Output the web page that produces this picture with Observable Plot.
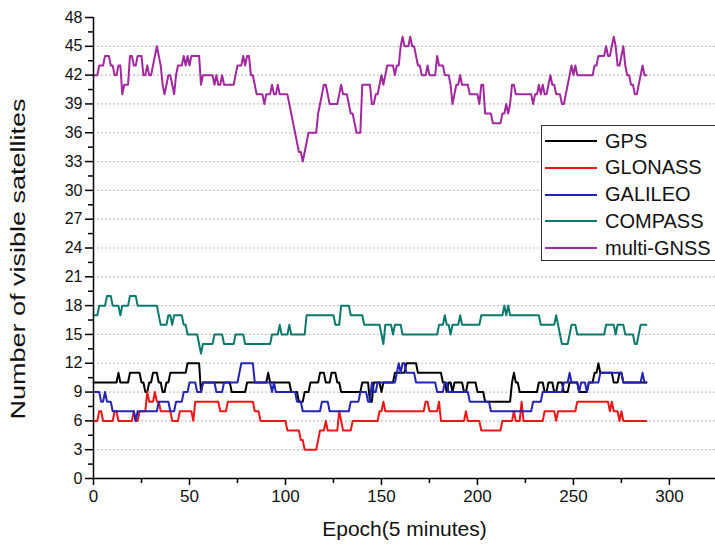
<!DOCTYPE html>
<html>
<head>
<meta charset="utf-8">
<script src="https://cdn.jsdelivr.net/npm/d3@7"></script>
<script src="https://cdn.jsdelivr.net/npm/@observablehq/plot@0.6"></script>
<style>
  html, body { margin: 0; padding: 0; background: #fff; overflow: hidden; }
  #wrap { position: relative; width: 715px; height: 547px; font-family: "Liberation Sans", Arial, sans-serif; }
  #legend { position: absolute; left: 541px; top: 125px; width: 190px; height: 136px; border: 1.5px solid #333; background: #fff; box-sizing: border-box; }
  .row { position: absolute; left: 0; height: 26px; display: flex; align-items: center; }
  .row span { color: #111; margin-left: 5px; font-size: 20px; }
</style>
</head>
<body>
<div id="wrap"><div id="chart"></div><div id="legend"></div></div>
<script>
// ---- Data (change points: epoch where value starts, value held until next change) ----
const seriesNames = ["GPS", "GLONASS", "GALILEO", "COMPASS", "multi-GNSS"];
const seriesColors = ["#000000", "#f01515", "#2424b4", "#0b7a6c", "#a2289f"];
const lastEpoch = 288;

const gpsE = [0,13,14,19,25,27,29,31,34,36,38,40,49,56,57,72,80,91,92,103,107,110,113,118,121,124,127,129,140,144,146,150,151,157,163,169,182,184,185,187,188,193,195,200,204,218,219,220,222,232,235,237,240,242,245,248,253,258,261,263,264,271,274,276];
const gpsV = [10,11,10,11,10,9,10,11,10,9,10,11,12,9,10,9,10,11,10,9,8,9,10,11,10,11,10,9,10,8,10,9,10,11,12,11,10,9,10,9,10,9,10,9,8,10,11,10,9,10,9,10,9,10,9,10,9,10,11,12,11,10,11,10];

const glonassE = [0,3,5,11,13,21,22,24,28,29,32,33,35,41,45,52,53,66,70,84,87,101,108,110,117,118,121,122,128,129,130,135,149,151,152,173,175,180,181,194,195,202,213,219,220,223,224,235,241,242,252,269,270,271,274,275,276];
const glonassV = [6,7,6,7,6,7,6,7,9,8,9,8,7,6,7,6,8,7,8,7,6,5,4,3,4,5,6,5,7,6,5,6,7,8,7,8,7,8,6,7,6,5,6,7,6,8,6,7,6,7,8,7,8,7,6,7,6];

const galileoE = [0,4,6,7,10,22,23,34,40,43,47,50,54,57,64,68,76,77,84,93,94,95,106,109,119,123,134,139,143,145,146,148,158,159,160,161,163,168,179,183,185,196,207,229,234,245,248,249,253,254,257,258,264,276,286,287];
const galileoV = [9,8,9,8,7,6,7,8,7,8,9,10,9,10,9,10,11,12,10,9,10,9,8,7,8,7,8,9,8,10,9,10,11,12,11,12,11,10,9,10,9,8,7,8,9,10,11,10,9,10,9,10,11,10,11,10];

const compassE = [0,3,7,10,14,15,19,23,34,35,39,41,42,47,49,55,56,57,63,68,74,79,93,97,98,102,103,111,126,129,134,141,150,151,152,156,157,161,180,183,184,186,187,191,192,202,214,215,216,217,233,241,242,243,244,248,249,252,267,272,273,277,282,284,285];
const compassV = [17,18,19,18,17,18,19,18,17,16,17,16,17,16,15,14,13,14,15,14,15,14,15,16,15,16,15,17,16,18,17,16,15,14,16,15,16,15,16,17,16,15,16,17,16,17,18,17,18,17,16,17,16,15,14,15,16,15,16,15,16,15,14,15,16];

const gnssE = [0,3,6,9,11,13,15,16,19,21,23,26,28,29,31,32,33,34,35,36,37,38,39,41,42,43,44,47,48,49,50,51,56,57,63,64,65,67,68,74,75,78,79,80,82,84,85,89,90,93,94,96,97,102,103,104,105,106,107,109,110,111,112,117,118,119,120,122,123,128,129,130,133,134,136,137,140,145,147,149,150,151,152,153,157,158,160,161,162,165,166,168,169,171,174,175,179,180,183,186,187,188,189,191,192,196,201,202,204,208,213,215,216,217,218,220,229,230,232,233,234,235,237,238,239,241,244,246,247,248,249,250,251,252,261,263,267,268,270,271,272,273,275,276,277,278,280,282,284,285,286,287];
const gnssV = [42,43,44,43,42,43,40,41,44,43,44,42,43,42,43,44,45,44,43,41,40,41,42,41,40,42,43,44,43,44,43,44,41,42,41,42,41,42,41,42,43,44,43,44,42,41,40,39,40,41,40,41,40,39,38,37,36,35,34,33,34,35,36,38,39,40,41,40,39,40,41,40,39,38,37,36,41,39,40,41,42,41,42,43,42,43,45,46,45,46,45,44,43,42,43,42,44,43,42,41,39,40,41,42,41,40,39,41,38,37,38,39,38,39,41,40,39,40,41,40,41,40,41,42,41,40,39,40,41,42,43,42,43,42,43,44,45,44,45,46,45,43,44,45,43,42,41,40,41,42,43,42];

const yTicks = [0,3,6,9,12,15,18,21,24,27,30,33,36,39,42,45,48];
const yMinor = [1.5,4.5,7.5,10.5,13.5,16.5,19.5,22.5,25.5,28.5,31.5,34.5,37.5,40.5,43.5,46.5];
const xTicks = [0,50,100,150,200,250,300];
const xMinor = [25,75,125,175,225,275];
const gridY = [3,6,9,12,15,18,21,24,27,30,33,36,39,42,45];

function expand(es, vs, name) {
  const out = [];
  let k = 0;
  for (let e = 0; e <= lastEpoch; e++) {
    while (k + 1 < es.length && es[k + 1] <= e) k++;
    out.push({series: name, epoch: e, value: vs[k]});
  }
  return out;
}
const allE = [gpsE, glonassE, galileoE, compassE, gnssE];
const allV = [gpsV, glonassV, galileoV, compassV, gnssV];
const data = seriesNames.map((n, i) => expand(allE[i], allV[i], n));

const font = '"Liberation Sans", Arial, sans-serif';

const chart = Plot.plot({
  width: 715,
  height: 547,
  marginLeft: 93,
  marginRight: 0,
  marginTop: 17,
  marginBottom: 69,
  style: {fontFamily: font, fontSize: "16px", color: "#111", background: "#fff"},
  x: {domain: [0, 324], axis: null},
  y: {domain: [0, 48], axis: null},
  marks: [
    Plot.ruleY(gridY, {stroke: "#c4c4c4", strokeWidth: 1.2, strokeDasharray: "2,2"}),
    ...data.map((d, i) => Plot.line(d, {x: "epoch", y: "value", stroke: seriesColors[i], strokeWidth: 2})),
    Plot.axisY(yTicks, {label: null, tickSize: 8, tickPadding: 3, stroke: "#000", strokeWidth: 1.5, fontSize: 16}),
    Plot.axisY(yMinor, {label: null, tickSize: 5, tickFormat: () => "", stroke: "#000", strokeWidth: 1.5}),
    Plot.axisX(xTicks, {label: null, tickSize: 7, tickPadding: 4, stroke: "#000", strokeWidth: 1.5, fontSize: 17}),
    Plot.axisX(xMinor, {label: null, tickSize: 5, tickFormat: () => "", stroke: "#000", strokeWidth: 1.5}),
    Plot.ruleX([0], {stroke: "#000", strokeWidth: 1.5}),
    Plot.ruleY([0], {stroke: "#000", strokeWidth: 1.5}),
    Plot.text(["Number of visible satellites"], {frameAnchor: "left", textAnchor: "middle", dx: -75, dy: 11, rotate: -90, fontSize: 20, fill: "#111", className: "ylab"}),
    Plot.text(["Epoch(5 minutes)"], {frameAnchor: "bottom", dx: 0, dy: 57, fontSize: 21, fill: "#111"})
  ]
});
document.getElementById("chart").appendChild(chart);
// stretch the y-axis title along its length, as in the reference
chart.querySelectorAll("g.ylab text").forEach(t => {
  const el = t.getAttribute("transform") ? t : t.parentNode;
  el.setAttribute("transform", (el.getAttribute("transform") || "") + " scale(1.35,1)");
});

// legend (in-plot box, top-right)
const legend = document.getElementById("legend");
seriesNames.forEach((n, i) => {
  const row = document.createElement("div");
  row.className = "row";
  row.style.top = (2 + i * 26.8) + "px";
  row.innerHTML = `<svg width="55" height="6" style="margin-left:3px"><line x1="0" y1="3" x2="52" y2="3" stroke="${seriesColors[i]}" stroke-width="2"/></svg><span>${n}</span>`;
  legend.appendChild(row);
});
</script>
</body>
</html>
